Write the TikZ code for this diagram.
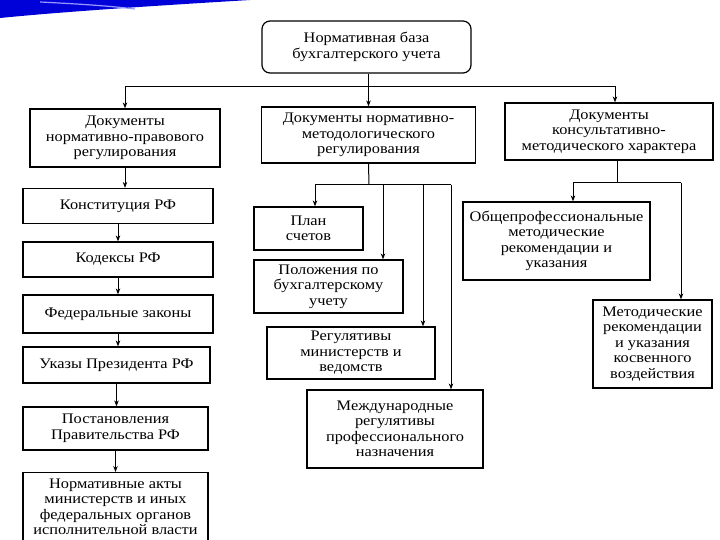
\documentclass[tikz,border=0pt]{standalone}
\usepackage{fontspec}
\setmainfont{Liberation Serif}[FakeStretch=1.12]
\usetikzlibrary{arrows.meta}
\begin{document}
\begin{tikzpicture}[x=1pt,y=-1pt,
  box/.style={draw, line width=1.2pt, align=center, inner sep=2pt,
    font=\fontsize{14.6}{15.5}\selectfont},
  ln/.style={line width=1pt},
  arr/.style={line width=1pt, -{Stealth[length=6pt,width=4.5pt]}}]
\useasboundingbox (0,0) rectangle (720,540);
\clip (0,0) rectangle (720,540);
% slide decoration
\fill[blue!85!black] (0,0) -- (250,0) .. controls (150,6) and (60,12) .. (0,18) -- cycle;
\draw[blue!40!white, line width=1.2pt] (40,2) .. controls (80,4) and (110,6) .. (135,9);
% top level
\node[box, rounded corners=8pt, minimum width=209, minimum height=52] (top) at (366.5,47)
  {Нормативная база\\бухгалтерского учета};
\node[box, minimum width=190, minimum height=58] (n1) at (125,138)
  {Документы\\нормативно-правового\\регулирования};
\node[box, minimum width=214, minimum height=56] (n2) at (368.5,135)
  {Документы нормативно-\\методологического\\регулирования};
\node[box, minimum width=208, minimum height=57] (n3) at (609,131.5)
  {Документы\\консультативно-\\методического характера};
\coordinate (hub) at (368.5,87);
\coordinate (hr) at (615,87);
\draw[arr] (top.south -| hub) -- (n2.north);
\draw[arr] (hub) -| (n1.north);
\draw[arr] (hub) -- (hr) -- (hr |- n3.north);
% left column
\node[box, minimum width=190, minimum height=35] (k1) at (118,206) {Конституция РФ};
\node[box, minimum width=190, minimum height=35] (k2) at (118,259.5) {Кодексы РФ};
\node[box, minimum width=190, minimum height=38] (k3) at (118,314) {Федеральные законы};
\node[box, minimum width=187, minimum height=36] (k4) at (116.5,365) {Указы Президента РФ};
\node[box, minimum width=185, minimum height=43] (k5) at (115.5,428.5) {Постановления\\Правительства РФ};
\node[box, anchor=north, minimum width=185, inner ysep=6pt] (k6) at (115.5,472)
  {Нормативные акты\\министерств и иных\\федеральных органов\\исполнительной власти};
\draw[arr] (n1.south) -- (n1.south |- k1.north);
\draw[arr] (k1.south) -- (k2.north);
\draw[arr] (k2.south) -- (k3.north);
\draw[arr] (k3.south) -- (k3.south |- k4.north);
\draw[arr] (k4.south) -- (k4.south |- k5.north);
\draw[arr] (k5.south) -- (k6.north);
% middle column
\node[box, minimum width=109, minimum height=43] (m1) at (308.5,228.5) {План\\счетов};
\node[box, minimum width=149, minimum height=53] (m2) at (328.5,286.5) {Положения по\\бухгалтерскому\\учету};
\node[box, minimum width=168, minimum height=52] (m3) at (351,353) {Регулятивы\\министерств и\\ведомств};
\node[box, minimum width=176, minimum height=78] (m4) at (395,429) {Международные\\регулятивы\\профессионального\\назначения};
\coordinate (mc) at (369,185);
\coordinate (ma) at (315,185);
\coordinate (mb) at (383,185);
\coordinate (md) at (423,185);
\coordinate (me) at (451,185);
\draw[ln] (n2.south) -- (mc);
\draw[ln] (ma) -- (me);
\draw[arr] (ma) -- (ma |- m1.north);
\draw[arr] (mb) -- (mb |- m2.north);
\draw[arr] (md) -- (md |- m3.north);
\draw[arr] (me) -- (me |- m4.north);
% right column
\node[box, minimum width=187, minimum height=78] (r1) at (556.5,241)
  {Общепрофессиональные\\методические\\рекомендации и\\указания};
\node[box, minimum width=119, minimum height=88] (r2) at (652.5,344)
  {Методические\\рекомендации\\и указания\\косвенного\\воздействия};
\coordinate (rc) at (617,183);
\coordinate (ra) at (573,183);
\coordinate (rb) at (681,183);
\draw[ln] (n3.south -| rc) -- (rc);
\draw[ln] (ra) -- (rb);
\draw[arr] (ra) -- (ra |- r1.north);
\draw[arr] (rb) -- (rb |- r2.north);
\end{tikzpicture}
\end{document}
